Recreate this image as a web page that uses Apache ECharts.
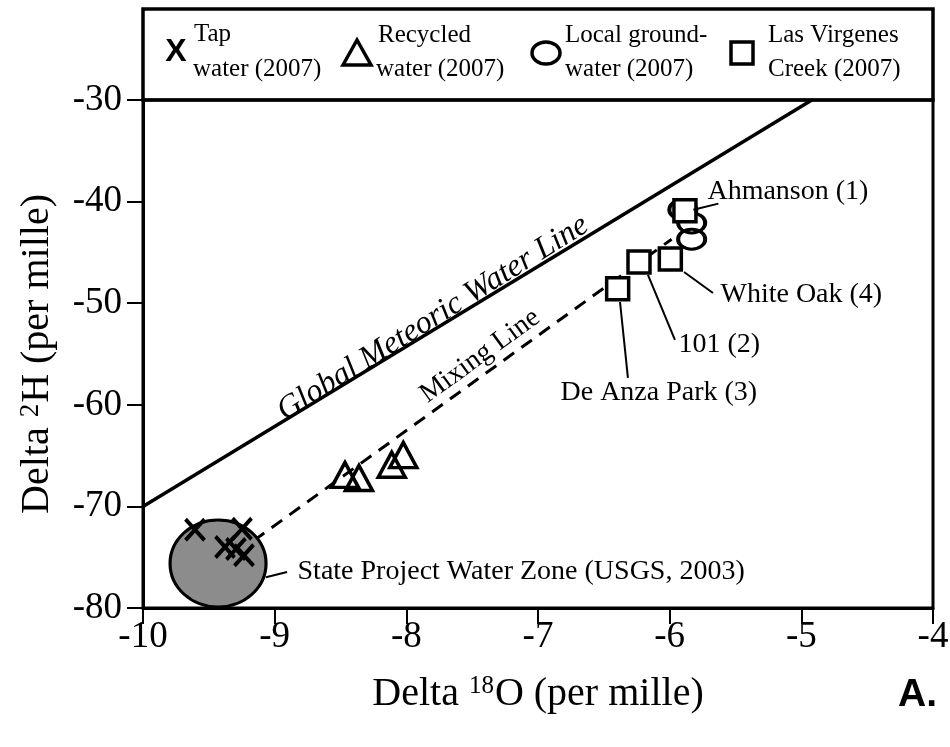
<!DOCTYPE html>
<html><head><meta charset="utf-8">
<script src="https://cdn.jsdelivr.net/npm/echarts@6/dist/echarts.min.js"></script>
<style>html,body{margin:0;padding:0;background:#fff}#c{width:950px;height:747px}</style>
</head><body><div id="c"></div>
<script>
// ---- data ----
const xTicks = [-10, -9, -8, -7, -6, -5, -4];
const yTicks = [-80, -70, -60, -50, -40, -30];

const tapO = [-9.605, -9.248, -9.377, -9.294, -9.233];
const tapH = [-72.3, -72.2, -74.0, -74.2, -74.8];

const recycledO = [-8.466, -8.36, -8.111, -8.023];
const recycledH = [-66.9, -67.2, -65.9, -64.95];

const groundO = [-5.90, -5.833, -5.833];
const groundH = [-40.8, -42.1, -43.7];

const creekNames = ['Ahmanson (1)', '101 (2)', 'De Anza Park (3)', 'White Oak (4)'];
const creekO = [-5.884, -6.233, -6.395, -5.995];
const creekH = [-40.9, -45.94, -48.57, -45.65];

const gmwlO = [-10, -4.92];
const gmwlH = [-70, -30];
const mixO = [-9.43, -5.985];
const mixH = [-75.9, -43.7];

const zoneO = [-9.43];
const zoneH = [-75.62];

// callout text anchors (left edge, vertical middle) in data units
const calloutText = ['Ahmanson (1)', 'White Oak (4)', '101 (2)', 'De Anza Park (3)', 'State Project Water Zone (USGS, 2003)'];
const calloutO = [-5.717, -5.618, -5.937, -6.833, -8.83];
const calloutH = [-39.06, -49.19, -54.11, -58.84, -76.46];
// leader lines [from, to]
const leaderFromO = [-5.82, -5.891, -6.165, -6.377, -9.066];
const leaderFromH = [-40.8, -46.93, -47.22, -49.88, -76.97];
const leaderToO = [-5.63, -5.671, -5.960, -6.317, -8.906];
const leaderToH = [-40.2, -48.99, -53.62, -57.36, -76.46];

// rotated line labels
const lineLabelText = ['Global Meteoric Water Line', 'Mixing Line'];
const lineLabelO = [-7.797, -7.44];
const lineLabelH = [-51.46, -55.2];

// ---- chart ----
const SERIF = 'Liberation Serif';
const pairs = (a, b) => a.map((v, i) => [v, b[i]]);
const chart = echarts.init(document.getElementById('c'), null, {renderer: 'canvas'});

const axisCommon = {
  type: 'value',
  axisLine: {show: true, onZero: false, lineStyle: {color: '#000', width: 3}},
  axisTick: {show: true, inside: false, length: 16, lineStyle: {color: '#000', width: 2}},
  splitLine: {show: false},
  axisLabel: {color: '#000', fontFamily: SERIF, fontSize: 37}
};
const plainLabel = {color: '#000', fontFamily: SERIF, textBorderWidth: 0, textShadowBlur: 0, opacity: 1};

const option = {
  animation: false,
  backgroundColor: '#fff',
  grid: {left: 143, right: 17, top: 100, bottom: 139, show: true, borderColor: '#000', borderWidth: 3, outerBoundsMode: 'none'},
  xAxis: Object.assign({}, axisCommon, {
    min: xTicks[0], max: xTicks[xTicks.length - 1], interval: 1,
    axisLabel: Object.assign({}, axisCommon.axisLabel, {margin: 11}),
    name: 'Delta {sup|18}O (per mille)', nameLocation: 'middle', nameGap: 66,
    nameTextStyle: {color: '#000', fontFamily: SERIF, fontSize: 40,
      rich: {sup: {fontFamily: SERIF, fontSize: 25, verticalAlign: 'top', color: '#000', padding: [0, 1, 0, 0]}}}
  }),
  yAxis: Object.assign({}, axisCommon, {
    min: yTicks[0], max: yTicks[yTicks.length - 1], interval: 10,
    axisLabel: Object.assign({}, axisCommon.axisLabel, {margin: 21}),
    name: 'Delta {sup|2}H (per mille)', nameLocation: 'middle', nameGap: 86,
    nameTextStyle: {color: '#000', fontFamily: SERIF, fontSize: 40,
      rich: {sup: {fontFamily: SERIF, fontSize: 27, verticalAlign: 'top', color: '#000', padding: [0, 1, 0, 0]}}}
  }),
  series: [
    {type: 'line', data: pairs(gmwlO, gmwlH), symbol: 'none', silent: true,
     lineStyle: {color: '#000', width: 3.5}, z: 2},
    {type: 'line', data: pairs(mixO, mixH), symbol: 'none', silent: true,
     lineStyle: {color: '#000', width: 3, type: [13, 9]}, z: 2},
    {type: 'scatter', data: pairs(zoneO, zoneH), symbol: 'circle', symbolSize: [96, 87],
     itemStyle: {color: '#8c8c8c', borderColor: '#000', borderWidth: 3, opacity: 1}, z: 3},
    {type: 'scatter', data: pairs(tapO, tapH), symbol: 'path://M0,0L10,11M10,0L0,11', symbolSize: [19, 21],
     itemStyle: {color: 'rgba(0,0,0,0)', borderColor: '#000', borderWidth: 4, opacity: 1}, z: 4},
    {type: 'scatter', data: pairs(recycledO, recycledH), symbol: 'triangle', symbolSize: [27, 25],
     itemStyle: {color: 'rgba(0,0,0,0)', borderColor: '#000', borderWidth: 3.5, opacity: 1}, z: 4},
    {type: 'scatter', data: pairs(groundO, groundH), symbol: 'circle', symbolSize: [27, 20],
     itemStyle: {color: 'rgba(0,0,0,0)', borderColor: '#000', borderWidth: 3.5, opacity: 1}, z: 4},
    {type: 'scatter', data: pairs(creekO, creekH), symbol: 'rect', symbolSize: 22,
     itemStyle: {color: '#fff', borderColor: '#000', borderWidth: 3.5, opacity: 1}, z: 5},
    {type: 'lines', coordinateSystem: 'cartesian2d', silent: true, z: 6,
     lineStyle: {color: '#000', width: 2, opacity: 1},
     data: leaderFromO.map((v, i) => ({coords: [[v, leaderFromH[i]], [leaderToO[i], leaderToH[i]]]}))},
    {type: 'scatter', symbolSize: 1, silent: true, z: 7,
     itemStyle: {color: 'rgba(0,0,0,0)'},
     data: calloutO.map((v, i) => [v, calloutH[i], calloutText[i]]),
     label: Object.assign({show: true, position: 'right', distance: 0, align: 'left', verticalAlign: 'middle',
       formatter: p => p.value[2], fontSize: 28}, plainLabel)},
    {type: 'scatter', symbolSize: 1, silent: true, z: 7,
     itemStyle: {color: 'rgba(0,0,0,0)'},
     data: [[lineLabelO[0], lineLabelH[0], lineLabelText[0]]],
     label: Object.assign({show: true, position: 'inside', align: 'center', verticalAlign: 'middle', rotate: 32,
       formatter: p => p.value[2], fontStyle: 'italic', fontSize: 32}, plainLabel)},
    {type: 'scatter', symbolSize: 1, silent: true, z: 7,
     itemStyle: {color: 'rgba(0,0,0,0)'},
     data: [[lineLabelO[1], lineLabelH[1], lineLabelText[1]]],
     label: Object.assign({show: true, position: 'inside', align: 'center', verticalAlign: 'middle', rotate: 36,
       formatter: p => p.value[2], fontSize: 28}, plainLabel)}
  ],
  graphic: [
    {type: 'rect', shape: {x: 143, y: 9, width: 790, height: 91}, style: {fill: 'none', stroke: '#000', lineWidth: 3.5}, z: 10},
    {type: 'text', x: 176, y: 52, style: {text: 'X', font: 'bold 32px "Liberation Sans"', fill: '#000', align: 'center', verticalAlign: 'middle'}, z: 10},
    {type: 'text', x: 194, y: 34, style: {text: 'Tap', font: '25px "Liberation Serif"', fill: '#000', align: 'left', verticalAlign: 'middle'}, z: 10},
    {type: 'text', x: 193, y: 69, style: {text: 'water (2007)', font: '25px "Liberation Serif"', fill: '#000', align: 'left', verticalAlign: 'middle'}, z: 10},
    {type: 'polygon', shape: {points: [[343, 65], [357, 40], [371, 65]]}, style: {fill: 'none', stroke: '#000', lineWidth: 3.5}, z: 10},
    {type: 'text', x: 378, y: 35, style: {text: 'Recycled', font: '25px "Liberation Serif"', fill: '#000', align: 'left', verticalAlign: 'middle'}, z: 10},
    {type: 'text', x: 376, y: 69, style: {text: 'water (2007)', font: '25px "Liberation Serif"', fill: '#000', align: 'left', verticalAlign: 'middle'}, z: 10},
    {type: 'ellipse', shape: {cx: 546, cy: 53, rx: 14, ry: 11}, style: {fill: 'none', stroke: '#000', lineWidth: 3.5}, z: 10},
    {type: 'text', x: 565, y: 35, style: {text: 'Local ground-', font: '25px "Liberation Serif"', fill: '#000', align: 'left', verticalAlign: 'middle'}, z: 10},
    {type: 'text', x: 565, y: 69, style: {text: 'water (2007)', font: '25px "Liberation Serif"', fill: '#000', align: 'left', verticalAlign: 'middle'}, z: 10},
    {type: 'rect', shape: {x: 731, y: 42, width: 22, height: 22}, style: {fill: 'none', stroke: '#000', lineWidth: 3.5}, z: 10},
    {type: 'text', x: 768, y: 35, style: {text: 'Las Virgenes', font: '25px "Liberation Serif"', fill: '#000', align: 'left', verticalAlign: 'middle'}, z: 10},
    {type: 'text', x: 768, y: 69, style: {text: 'Creek (2007)', font: '25px "Liberation Serif"', fill: '#000', align: 'left', verticalAlign: 'middle'}, z: 10},
    {type: 'text', x: 898, y: 695, style: {text: 'A.', font: 'bold 39px "Liberation Sans"', fill: '#000', align: 'left', verticalAlign: 'middle'}, z: 10}
  ]
};
chart.setOption(option);
</script>
</body></html>
